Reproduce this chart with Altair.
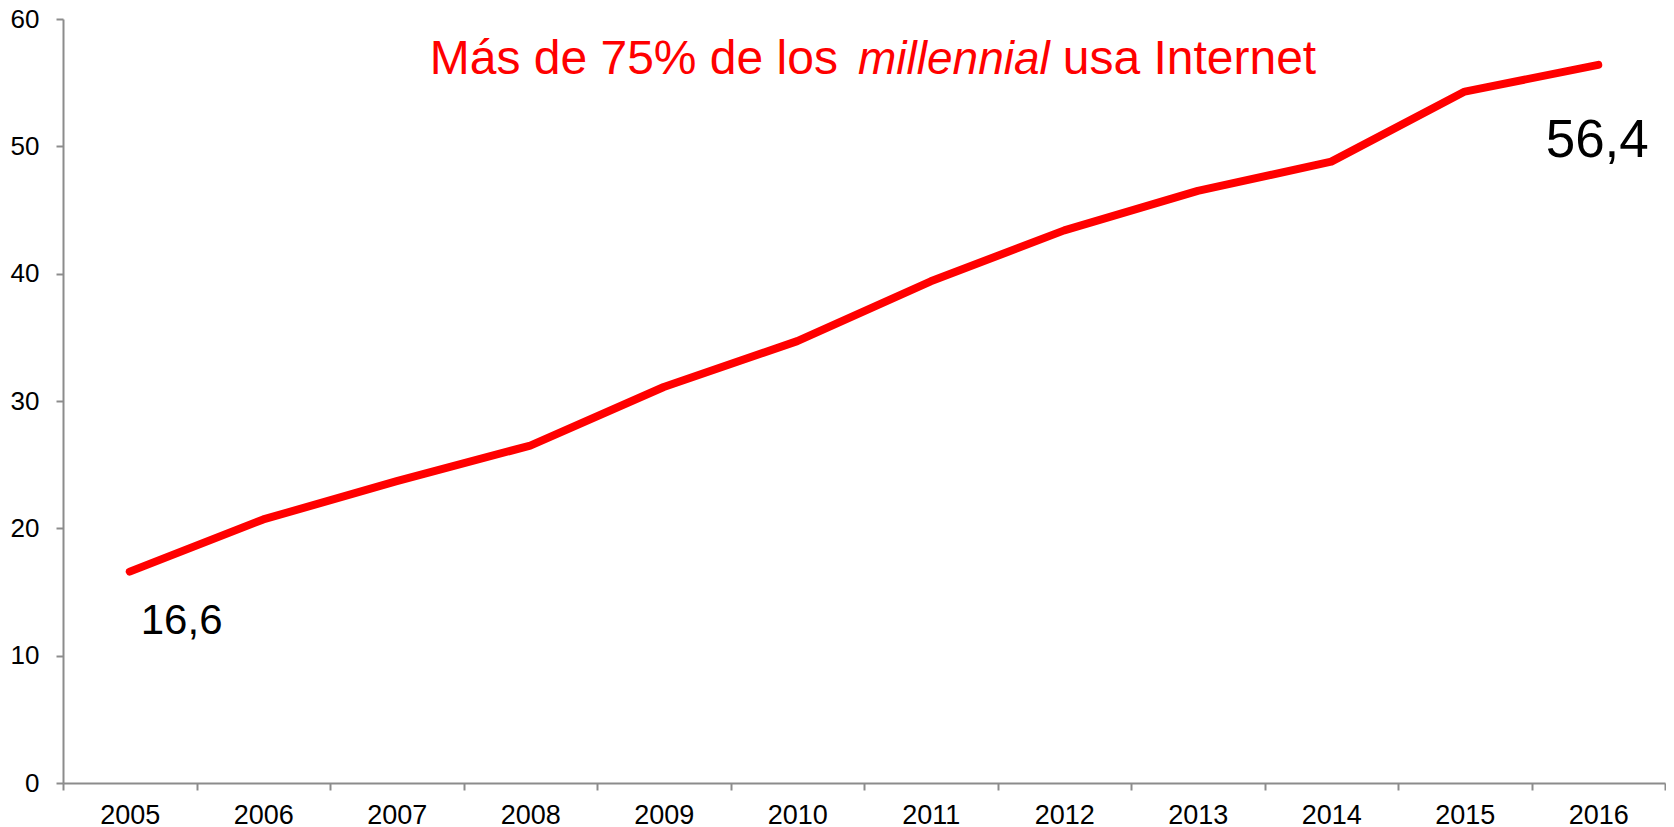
import altair as alt
import pandas as pd

years = ["2005", "2006", "2007", "2008", "2009", "2010",
         "2011", "2012", "2013", "2014", "2015", "2016"]
values = [16.6, 20.7, 23.7, 26.5, 31.1, 34.7, 39.4, 43.4, 46.5, 48.8, 54.3, 56.4]
y_ticks = [0, 10, 20, 30, 40, 50, 60]

title_parts = ["Más de 75% de los", "millennial", "usa Internet"]

df = pd.DataFrame({"year": years, "value": values})

FONT = "Liberation Sans"
RED = "#ff0000"
AXIS_GREY = "#8c8c8c"

x_enc = alt.X(
    "year:O",
    sort=years,
    scale=alt.Scale(type="band", paddingInner=0, paddingOuter=0),
    axis=alt.Axis(
        title=None, labelAngle=0, tickBand="extent",
        labelFont=FONT, labelFontSize=27, labelColor="#000000",
        labelPadding=12, tickSize=7, tickColor=AXIS_GREY, tickWidth=2,
        domainColor=AXIS_GREY, domainWidth=2, grid=False,
    ),
)
y_enc = alt.Y(
    "value:Q",
    scale=alt.Scale(domain=[0, 60], nice=False),
    axis=alt.Axis(
        title=None, values=y_ticks,
        labelFont=FONT, labelFontSize=26, labelColor="#000000",
        labelPadding=17, tickSize=7, tickColor=AXIS_GREY, tickWidth=2,
        domainColor=AXIS_GREY, domainWidth=2, grid=False,
    ),
)

line = alt.Chart(df).mark_line(
    color=RED, strokeWidth=8, strokeCap="round", strokeJoin="round"
).encode(x=x_enc, y=y_enc)

first = df.iloc[[0]].assign(label=[f"{values[0]:.1f}".replace(".", ",")])
last = df.iloc[[-1]].assign(label=[f"{values[-1]:.1f}".replace(".", ",")])

first_label = alt.Chart(first).mark_text(
    font=FONT, fontSize=42, color="#000000", align="left",
    baseline="alphabetic", dx=11, dy=62,
).encode(x=alt.X("year:O", sort=years), y="value:Q", text="label:N")

last_label = alt.Chart(last).mark_text(
    font=FONT, fontSize=53, color="#000000", align="center",
    baseline="alphabetic", dx=-1, dy=92,
).encode(x=alt.X("year:O", sort=years), y="value:Q", text="label:N")

title_df = pd.DataFrame({"t": [0]})
t1 = alt.Chart(title_df).mark_text(
    font=FONT, fontSize=48, color=RED, align="left", baseline="alphabetic"
).encode(x=alt.value(366.7), y=alt.value(55.3), text=alt.value(title_parts[0]))
t2 = alt.Chart(title_df).mark_text(
    font=FONT, fontSize=46, color=RED, align="left", baseline="alphabetic",
    fontStyle="italic",
).encode(x=alt.value(795), y=alt.value(55.3), text=alt.value(title_parts[1]))
t3 = alt.Chart(title_df).mark_text(
    font=FONT, fontSize=48, color=RED, align="left", baseline="alphabetic"
).encode(x=alt.value(999.7), y=alt.value(55.3), text=alt.value(title_parts[2]))

chart = alt.layer(line, first_label, last_label, t1, t2, t3).properties(
    width=1602, height=764,
    padding={"left": 55, "top": 11, "right": 1, "bottom": 44},
    autosize="none",
    background="#ffffff",
).configure_view(stroke=None)

chart.save("out.html", embed_options={"renderer": "svg", "actions": False})
